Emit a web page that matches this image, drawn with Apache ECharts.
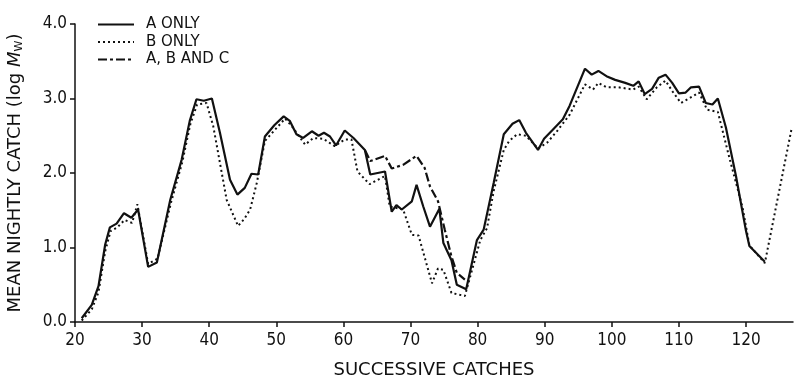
<!DOCTYPE html>
<html>
<head>
<meta charset="utf-8">
<script src="https://cdn.jsdelivr.net/npm/echarts@6/dist/echarts.min.js"></script>
<style>
  html, body { margin: 0; padding: 0; background: #fff; }
  #main { width: 795px; height: 378px; }
</style>
</head>
<body>
<div id="main"></div>
<script>
  // 数据: [catch号, log Mw]
  let seriesNames = ['A ONLY', 'B ONLY', 'A, B AND C']
  let xTicks = [20, 30, 40, 50, 60, 70, 80, 90, 100, 110, 120]
  let yTicks = ['0.0', '1.0', '2.0', '3.0', '4.0']

  let aOnly = [
    [21.0,0.05],[22.5,0.23],[23.5,0.48],[24.5,1.04],[25.2,1.27],[26.2,1.32],[27.3,1.46],[28.4,1.40],
    [29.4,1.51],[30.9,0.74],[32.2,0.80],[34.2,1.64],[35.9,2.18],[37.1,2.70],[38.1,2.99],[39.2,2.97],
    [40.4,3.00],[41.6,2.54],[43.1,1.91],[44.2,1.71],[45.3,1.80],[46.3,1.99],[47.3,1.98],[48.3,2.49],
    [49.7,2.64],[51.1,2.76],[52.0,2.70],[53.0,2.52],[54.0,2.47],[55.3,2.56],[56.3,2.50],[57.1,2.54],
    [58.0,2.49],[58.9,2.37],[60.2,2.57],[61.5,2.47],[63.2,2.31],[64.0,1.98],[66.2,2.02],[67.2,1.48],
    [67.9,1.57],[68.7,1.51],[70.2,1.62],[70.9,1.84],[71.9,1.55],[72.9,1.28],[74.3,1.52],[74.9,1.06],
    [76.1,0.83],[76.9,0.50],[78.3,0.44],[79.9,1.10],[80.9,1.24],[82.4,1.87],[83.9,2.52],[85.2,2.66],
    [86.2,2.71],[87.2,2.54],[89.0,2.31],[89.9,2.46],[91.2,2.58],[92.7,2.72],[93.7,2.90],[96.0,3.40],
    [97.0,3.32],[98.0,3.37],[99.2,3.30],[100.5,3.25],[102.0,3.21],[103.2,3.17],[104.0,3.23],[104.9,3.06],
    [106.0,3.13],[107.0,3.28],[108.0,3.32],[109.0,3.21],[110.0,3.07],[111.0,3.08],[111.8,3.15],[113.0,3.16],
    [114.0,2.94],[115.0,2.92],[115.8,3.00],[117.0,2.61],[118.5,1.96],[120.0,1.22],[120.5,1.02],[122.8,0.81]
  ]

  let bOnly = [
    [21.0,0.02],[22.5,0.17],[23.5,0.40],[24.5,0.95],[25.3,1.22],[26.3,1.27],[27.4,1.37],[28.5,1.33],
    [29.3,1.58],[30.9,0.78],[32.3,0.85],[34.3,1.60],[36.0,2.15],[37.2,2.66],[38.2,2.92],[39.6,2.94],
    [40.6,2.63],[42.6,1.64],[44.3,1.29],[45.2,1.38],[46.1,1.51],[47.1,1.87],[48.3,2.43],[49.8,2.58],
    [51.3,2.73],[52.3,2.63],[54.3,2.38],[55.5,2.47],[57.0,2.46],[58.7,2.36],[60.2,2.45],[61.2,2.45],
    [62.1,2.02],[63.9,1.85],[66.2,1.96],[66.9,1.55],[68.9,1.51],[70.2,1.17],[71.2,1.16],[73.2,0.52],
    [74.1,0.72],[74.9,0.70],[76.1,0.39],[78.1,0.35],[80.4,1.10],[81.4,1.26],[82.4,1.76],[83.9,2.31],
    [84.7,2.43],[85.9,2.52],[87.2,2.50],[89.0,2.33],[90.4,2.41],[91.9,2.57],[93.7,2.78],[96.0,3.19],
    [97.2,3.12],[98.0,3.21],[99.2,3.15],[101.0,3.15],[103.2,3.12],[104.0,3.16],[105.2,2.99],[106.7,3.15],
    [108.0,3.24],[109.0,3.10],[110.3,2.94],[111.5,3.00],[113.0,3.08],[114.2,2.85],[115.8,2.82],[117.5,2.21],
    [119.5,1.53],[120.5,1.03],[122.8,0.79],[126.8,2.60]
  ]

  let abc = [
    [63.2,2.31],[64.0,2.16],[66.2,2.23],[67.2,2.06],[68.9,2.11],[70.9,2.23],[72.1,2.07],[72.9,1.82],
    [74.1,1.62],[75.1,1.24],[76.1,0.88],[76.9,0.66],[78.1,0.57]
  ]

  let tickFont = "'Liberation Sans Narrow', 'DejaVu Sans Condensed', 'Roboto', sans-serif"
  let titleFont = "'DejaVu Sans', sans-serif"

  let figure = document.getElementById('main')
  let myChart = echarts.init(figure, null, {renderer: 'canvas'})

  // 三种线型
  const makeLine = (name, data, type, width) => {
    return {
      name: name,
      type: 'line',
      data: data,
      symbol: 'none',
      showSymbol: false,
      animation: false,
      lineStyle: {color: '#111', width: width, type: type},
      itemStyle: {color: '#111'}
    }
  }

  let option = {
    // v6默认会给标签留边, 这里关掉, 用固定的像素位置
    grid: {left: 75, right: 2, top: 24, bottom: 56, outerBoundsMode: 'none'},
    legend: {
      orient: 'vertical',
      left: 97,
      top: 17,
      padding: 0,
      itemWidth: 36,
      itemHeight: 14,
      itemGap: 2.5,
      data: seriesNames,
      itemStyle: {opacity: 0},
      textStyle: {fontFamily: titleFont, fontSize: 15, color: '#111', padding: [0, 0, 0, 7]}
    },
    xAxis: {
      type: 'value',
      min: 20,
      max: 127,
      interval: 10,
      splitLine: {show: false},
      axisLine: {lineStyle: {color: '#111', width: 1.5}},
      axisTick: {length: 5, lineStyle: {color: '#111', width: 1.5}},
      axisLabel: {
        showMaxLabel: false,
        margin: 10,
        color: '#111',
        fontSize: 17,
        fontFamily: tickFont,
        formatter: (v) => xTicks.indexOf(v) >= 0 ? String(v) : ''
      },
      name: 'SUCCESSIVE CATCHES',
      nameLocation: 'middle',
      nameGap: 39,
      nameTextStyle: {fontFamily: titleFont, fontSize: 18, color: '#111'}
    },
    yAxis: {
      type: 'value',
      min: 0,
      max: 4,
      interval: 1,
      splitLine: {show: false},
      axisLine: {show: true, lineStyle: {color: '#111', width: 1.5}},
      axisTick: {show: true, length: 5, lineStyle: {color: '#111', width: 1.5}},
      axisLabel: {
        margin: 8,
        color: '#111',
        fontSize: 17,
        fontFamily: tickFont,
        formatter: (v) => yTicks[v]
      },
      name: 'MEAN NIGHTLY CATCH (log {i|M}{s|W})',
      nameLocation: 'middle',
      nameGap: 50,
      nameTextStyle: {
        fontFamily: titleFont,
        fontSize: 18,
        color: '#111',
        rich: {
          i: {fontFamily: titleFont, fontSize: 18, fontStyle: 'italic', color: '#111'},
          s: {fontFamily: titleFont, fontSize: 11, color: '#111', padding: [8, 0, 0, 0]}
        }
      }
    },
    series: [
      makeLine(seriesNames[0], aOnly, 'solid', 2.2),
      makeLine(seriesNames[1], bOnly, [2, 3], 2),
      makeLine(seriesNames[2], abc, [9, 3, 3, 3], 2.2)
    ]
  }
  myChart.setOption(option)
  window.addEventListener('resize', myChart.resize)
</script>
</body>
</html>
